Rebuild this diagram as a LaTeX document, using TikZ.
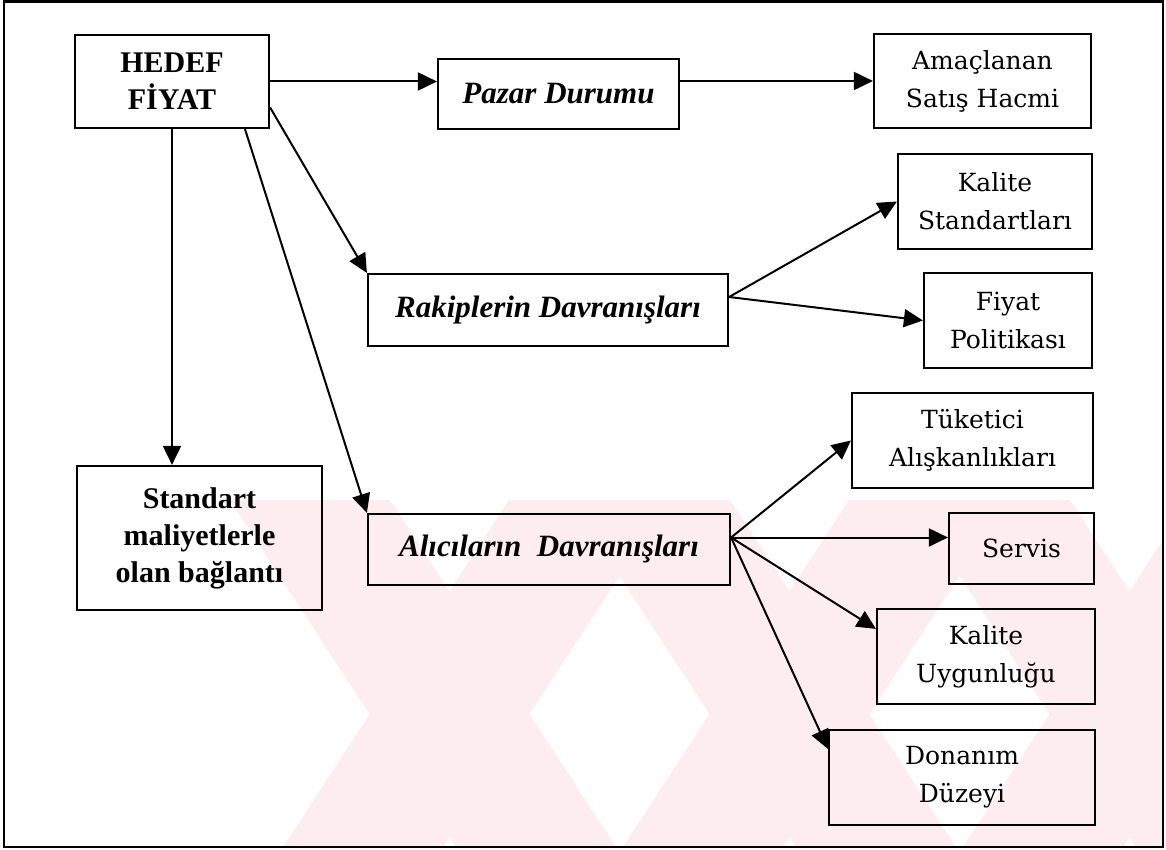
\documentclass[tikz,border=0pt]{standalone}
\usepackage{fontspec}
\setmainfont{DejaVu Serif}
\newfontfamily\timesfam{Liberation Serif}
\usetikzlibrary{arrows.meta,calc}
\definecolor{wmpink}{RGB}{253,237,241}
\tikzset{
  box/.style={draw, line width=2.2pt, inner sep=0pt, align=center,
              font=\fontsize{25}{38}\selectfont},
  boldbox/.style={box, font=\timesfam\bfseries\fontsize{30}{37}\selectfont},
  bibox/.style={box, font=\timesfam\bfseries\itshape\fontsize{31}{37}\selectfont},
  conn/.style={line width=2pt, -{Triangle[length=19pt,width=18pt]}},
  frame/.style={line width=2.2pt},
  stripe/.style={fill=wmpink},
}
\begin{document}
\begin{tikzpicture}[x=1pt,y=-1pt]
\useasboundingbox (0,0) rectangle (1166,850);

% faint background stripes in the lower part
\begin{scope}
  \clip (5,500) rectangle (1162,846);
  \fill[stripe] (230,500) -- (390,500) -- (616,847) -- (456,847) -- cycle;
  \fill[stripe] (570,500) -- (730,500) -- (956,847) -- (796,847) -- cycle;
  \fill[stripe] (910,500) -- (1070,500) -- (1296,847) -- (1136,847) -- cycle;
  \fill[stripe] (283,847) -- (443,847) -- (669,500) -- (509,500) -- cycle;
  \fill[stripe] (623,847) -- (783,847) -- (1009,500) -- (849,500) -- cycle;
  \fill[stripe] (963,847) -- (1123,847) -- (1349,500) -- (1189,500) -- cycle;
\end{scope}

% outer frame
\draw[frame] (4,1.5) rectangle (1163,847);

% boxes
\node[boldbox, minimum width=194pt, minimum height=93pt] (hedef) at (172,81.5) {HEDEF\\FİYAT};
\node[bibox, minimum width=241pt, minimum height=70pt] (pazar) at (558.5,94) {Pazar Durumu};
\node[box, minimum width=217pt, minimum height=94pt] (amac) at (982.5,81) {Amaçlanan\\Satış Hacmi};
\node[box, minimum width=194pt, minimum height=95pt] (kstd) at (995,201.5) {Kalite\\Standartları};
\node[bibox, minimum width=360pt, minimum height=72pt] (rak) at (548,310) {Rakiplerin Davranışları};
\node[box, minimum width=168pt, minimum height=95pt] (fiyat) at (1008,320.5) {Fiyat\\Politikası};
\node[box, minimum width=241pt, minimum height=95pt] (tuk) at (972.5,440.5) {Tüketici\\Alışkanlıkları};
\node[boldbox, minimum width=245pt, minimum height=144pt] (std) at (199.5,538) {Standart\\maliyetlerle\\olan bağlantı};
\node[bibox, minimum width=362pt, minimum height=71pt] (alici) at (549,549.5) {Alıcıların\ \ Davranışları};
\node[box, minimum width=145pt, minimum height=71pt] (servis) at (1021.5,548.5) {Servis};
\node[box, minimum width=218pt, minimum height=95pt] (kuyg) at (986,656.5) {Kalite\\Uygunluğu};
\node[box, minimum width=266pt, minimum height=95pt] (don) at (962,777.5) {Donanım\\Düzeyi};

% connectors from the target price
\draw[conn] (hedef.east) -- (hedef.east -| pazar.west);
\draw[conn] (pazar.east |- amac.west) -- (amac.west);
\draw[conn] ($(hedef.east)+(0,26)$) -- (rak.north west);
\draw[conn] ($(hedef.south)+(73,0)$) -- (alici.north west);
\draw[conn] (hedef.south) -- (hedef.south |- std.north);

% competitors' behaviour
\coordinate (rj) at ($(rak.east)+(0,-13)$);
\draw[conn] (rj) -- (kstd.west);
\draw[conn] (rj) -- (fiyat.west);

% buyers' behaviour
\coordinate (aj) at ($(alici.east)+(0,-12)$);
\draw[conn] (aj) -- (tuk.west);
\draw[conn] (aj) -- (aj -| servis.west);
\draw[conn] (aj) -- ($(kuyg.north west)+(0,21)$);
\draw[conn] (aj) -- ($(don.north west)+(0,20)$);
\end{tikzpicture}
\end{document}
